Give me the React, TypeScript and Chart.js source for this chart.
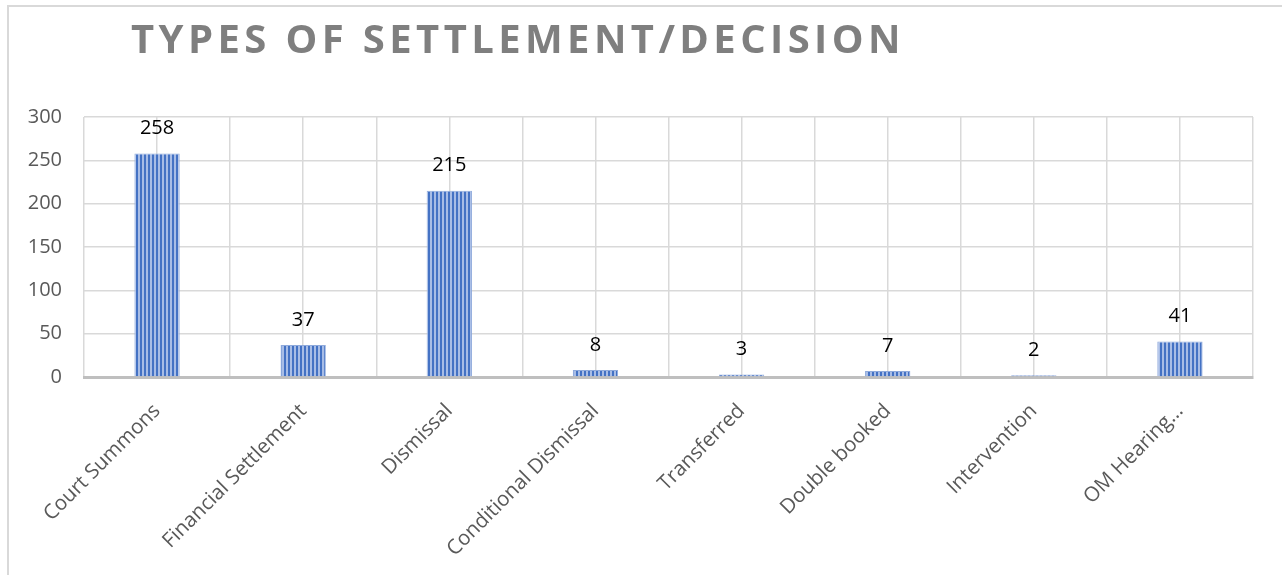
import React, { useEffect, useRef } from "react";
import { Chart, registerables } from "chart.js";

Chart.register(...registerables);

const TITLE = "TYPES OF SETTLEMENT/DECISION";
const categories = [
  "Court Summons",
  "Financial Settlement",
  "Dismissal",
  "Conditional Dismissal",
  "Transferred",
  "Double booked",
  "Intervention",
  "OM Hearing…",
];
const values = [258, 37, 215, 8, 3, 7, 2, 41];
const yMin = 0;
const yMax = 300;
const yStep = 50;

const FONT = "'Open Sans', 'Liberation Sans', sans-serif";

function makePattern(): CanvasPattern | string {
  const c = document.createElement("canvas");
  c.width = 4;
  c.height = 4;
  const g = c.getContext("2d");
  if (!g) return "#4472C4";
  g.fillStyle = "#a8bde6";
  g.fillRect(0, 0, 4, 4);
  g.fillStyle = "#4472C4";
  g.fillRect(0, 0, 2, 4);
  const p = g.createPattern(c, "repeat");
  return p || "#4472C4";
}

const valueLabels = {
  id: "valueLabels",
  afterDatasetsDraw(chart: any) {
    const ctx = chart.ctx;
    const meta = chart.getDatasetMeta(0);
    ctx.save();
    ctx.font = `20px ${FONT}`;
    ctx.fillStyle = "#000000";
    ctx.textAlign = "center";
    ctx.textBaseline = "middle";
    meta.data.forEach((el: any, i: number) => {
      ctx.fillText(String(values[i]), el.x, el.y - 25);
    });
    ctx.restore();
  },
};

export default function App() {
  const ref = useRef<HTMLCanvasElement | null>(null);

  useEffect(() => {
    if (!ref.current) return;
    const pattern = makePattern();
    const chart = new Chart(ref.current, {
      type: "bar",
      data: {
        labels: categories,
        datasets: [
          {
            data: values,
            backgroundColor: pattern as any,
            borderColor: "#8faadc",
            borderWidth: 1,
            barPercentage: 0.31,
            categoryPercentage: 1,
          },
        ],
      },
      options: {
        responsive: false,
        animation: false,
        events: [],
        layout: { padding: { top: 117, right: 29, bottom: 0, left: 0 } },
        plugins: {
          legend: { display: false },
          title: { display: false },
          tooltip: { enabled: false },
        },
        scales: {
          x: {
            type: "category",
            position: "bottom",
            offset: true,
            grid: { offset: true, color: "#d9d9d9", lineWidth: 1.5, drawTicks: false },
            border: { display: true, color: "#bfbfbf", width: 3 },
            ticks: {
              font: { family: FONT, size: 20.5 },
              color: "#595959",
              minRotation: 45,
              maxRotation: 45,
              padding: 22,
              autoSkip: false,
            },
            afterFit: (s: any) => {
              s.height = 198;
            },
          },
          x2: {
            type: "category",
            position: "bottom",
            offset: true,
            grid: { offset: false, color: "#d9d9d9", lineWidth: 1.5, drawTicks: false },
            border: { display: false },
            ticks: { display: false },
            afterFit: (s: any) => {
              s.height = 0;
            },
          },
          y: {
            min: yMin,
            max: yMax,
            ticks: {
              stepSize: yStep,
              font: { family: FONT, size: 20 },
              color: "#595959",
              padding: 22,
            },
            grid: { color: "#d9d9d9", lineWidth: 1.5, drawTicks: false },
            border: { display: false },
            afterFit: (s: any) => {
              s.width = 84;
            },
          },
        },
      },
      plugins: [valueLabels],
    });
    return () => chart.destroy();
  }, []);

  return (
    <div
      style={{
        position: "absolute",
        left: 0,
        top: 0,
        width: 1282,
        height: 575,
        overflow: "hidden",
        background: "#ffffff",
      }}
    >
      <div
        style={{
          position: "absolute",
          left: 7,
          top: 5,
          width: 1400,
          height: 700,
          border: "2px solid #d9d9d9",
          boxSizing: "border-box",
        }}
      />
      <canvas
        ref={ref}
        width={1282}
        height={575}
        style={{ position: "absolute", left: 0, top: 0, display: "block" }}
      />
      <div
        style={{
          position: "absolute",
          left: 131,
          top: 18,
          fontFamily: FONT,
          fontWeight: 700,
          fontSize: 40,
          lineHeight: 1,
          letterSpacing: 4.4,
          color: "#7f7f7f",
          whiteSpace: "nowrap",
        }}
      >
        {TITLE}
      </div>
    </div>
  );
}
